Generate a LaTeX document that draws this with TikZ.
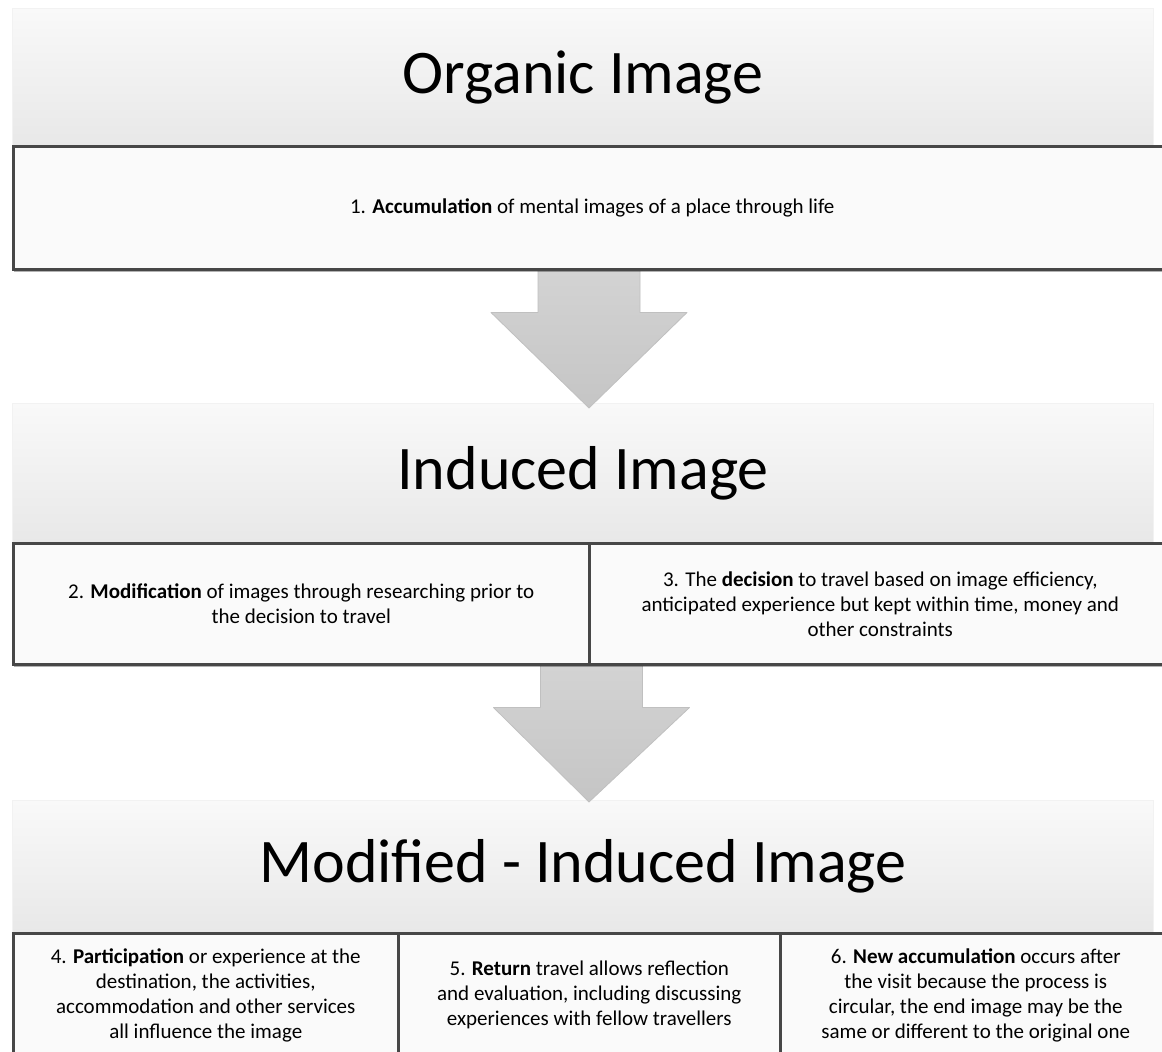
\documentclass[tikz,border=0pt]{standalone}
\usepackage{fontspec}
\setmainfont{Carlito}
\usetikzlibrary{calc,shadows}
\definecolor{hdtop}{HTML}{F9F9F9}
\definecolor{hdbot}{HTML}{E8E8E8}
\definecolor{hdedge}{HTML}{F2F2F2}
\definecolor{boxfill}{HTML}{FAFAFA}
\definecolor{boxline}{HTML}{474747}
\definecolor{arrtop}{HTML}{D3D3D3}
\definecolor{arrbot}{HTML}{C5C5C5}
\definecolor{arredge}{HTML}{C0C0C0}
\pgfdeclarelayer{bg}
\pgfdeclarelayer{mid}
\pgfsetlayers{bg,mid,main}
\newcommand{\DownBlockArrow}[2]{%
  \path[blockarrow] let \p1=(#1), \p2=(#2) in
    (\x1-51,\y1) -- (\x1+51,\y1) -- (\x1+51,\y1-42) -- (\x1+98,\y1-42)
    -- (\x2,\y2) -- (\x1-98,\y1-42) -- (\x1-51,\y1-42) -- cycle;}
\begin{document}
\begin{tikzpicture}[x=1pt,y=1pt,
  header/.style={anchor=north west, inner sep=0pt, top color=hdtop, bottom color=hdbot,
    draw=hdedge, line width=1pt, font=\fontsize{62}{74}\selectfont},
  textbox/.style={anchor=north west, inner sep=4pt, fill=boxfill, draw=boxline,
    line width=2.5pt, align=center, font=\fontsize{21}{25}\selectfont,
    drop shadow={shadow xshift=1pt, shadow yshift=-2.5pt, opacity=0.3, fill=black}},
  blockarrow/.style={top color=arrtop, bottom color=arrbot, draw=arredge, line width=0.8pt,
    line join=round}]
\useasboundingbox (0,0) rectangle (1162,-1052);
\begin{pgfonlayer}{bg}
\fill[white] (0,0) rectangle (1162,-1052);
\node[header, minimum width=1141, minimum height=137] (h1) at (12,-8) {Organic Image};
\node[header, minimum width=1141, minimum height=139] (h2) at (12,-403) {Induced Image};
\node[header, minimum width=1141, minimum height=132] (h3) at (12,-800) {Modified - Induced Image};
\end{pgfonlayer}

\node[textbox, minimum width=1158, minimum height=123] (b1) at (12,-145)
  {1. \textbf{Accumulation} of mental images of a place through life};

\node[textbox, minimum width=576, minimum height=121] (b2) at (12,-542)
  {2. \textbf{Modification} of images through researching prior to\\ the decision to travel};
\node[textbox, minimum width=582, minimum height=121] (b3) at (588,-542)
  {3. The \textbf{decision} to travel based on image efficiency,\\ anticipated experience but kept within time, money and\\ other constraints};

\node[textbox, minimum width=385, minimum height=124] (b4) at (12,-932)
  {4. \textbf{Participation} or experience at the\\ destination, the activities,\\ accommodation and other services\\ all influence the image};
\node[textbox, minimum width=382, minimum height=124] (b5) at (397,-932)
  {5. \textbf{Return} travel allows reflection\\ and evaluation, including discussing\\ experiences with fellow travellers};
\node[textbox, minimum width=391, minimum height=124] (b6) at (779,-932)
  {6. \textbf{New accumulation} occurs after\\ the visit because the process is\\ circular, the end image may be the\\ same or different to the original one};

\coordinate (a1s) at ($(b1.south west)+(577,0)$);
\coordinate (a1e) at ($(h2.north west)+(577,-5)$);
\coordinate (a2s) at ($(b2.south east)+(1,0)$);
\coordinate (a2e) at ($(h3.north west)+(577,-2)$);
\begin{pgfonlayer}{mid}
\DownBlockArrow{a1s}{a1e}
\DownBlockArrow{a2s}{a2e}
\end{pgfonlayer}
\end{tikzpicture}
\end{document}
